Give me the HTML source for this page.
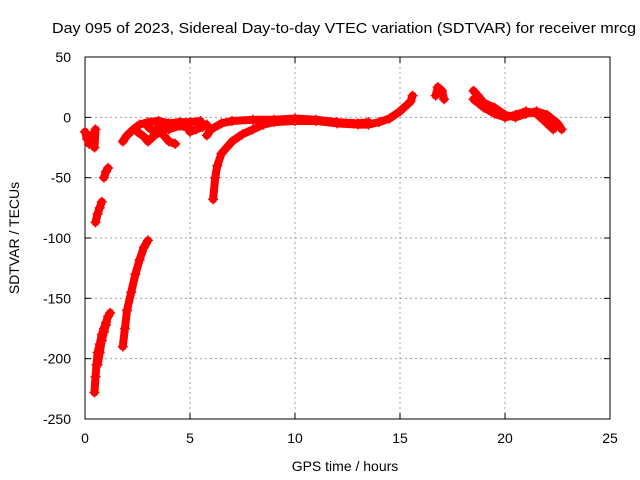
<!DOCTYPE html>
<html><head><meta charset="utf-8"><style>
body{margin:0;background:#fff}
svg{display:block;font-family:"Liberation Sans",sans-serif}
</style></head><body>
<svg id="chart" width="640" height="480">
<rect width="640" height="480" fill="#fff"/>
<text x="52" y="33" font-size="15" textLength="584" lengthAdjust="spacingAndGlyphs">Day 095 of 2023, Sidereal Day-to-day VTEC variation (SDTVAR) for receiver mrcg</text>
<g id="grid"></g>
<g id="axes"></g>
<g id="series"></g>
<text x="345" y="471" font-size="14" text-anchor="middle">GPS time / hours</text>
<text transform="translate(19,238) rotate(-90)" font-size="14" text-anchor="middle">SDTVAR / TECUs</text>
</svg>
<script>
const xTicks=[0,5,10,15,20,25];
const yTicks=[50,0,-50,-100,-150,-200,-250];
const track1X=[0.0,0.1,0.2,0.3,0.4,0.5,0.45];
const track1Y=[-12,-18,-22,-15,-20,-10,-25];
const track2X=[0.5,0.6,0.7,0.8];
const track2Y=[-87,-80,-75,-70];
const track3X=[0.9,1.0,1.1];
const track3Y=[-50,-45,-42];
const track4X=[0.45,0.5,0.55,0.6,0.7,0.8,0.9,1.0,1.1,1.2];
const track4Y=[-228,-215,-205,-195,-188,-180,-175,-170,-165,-162];
const track4bX=[0.6,0.7,0.8,0.9,1.0];
const track4bY=[-205,-195,-185,-178,-172];
const track5X=[1.8,1.9,2.0,2.2,2.4,2.6,2.8,3.0];
const track5Y=[-190,-175,-160,-145,-130,-118,-108,-102];
const track6X=[1.8,2.0,2.3,2.6,3.0,3.5,4.0,4.5,5.0,5.5];
const track6Y=[-20,-15,-10,-6,-4,-3,-5,-4,-4,-3];
const track7X=[2.5,2.8,3.0,3.3,3.6,4.0,4.3];
const track7Y=[-12,-16,-20,-15,-12,-20,-22];
const track7bX=[3.0,3.3,3.6,4.0,4.5,5.0];
const track7bY=[-8,-12,-6,-10,-7,-9];
const track8X=[5.0,5.3,5.6,5.8];
const track8Y=[-12,-10,-8,-6];
const track9X=[6.1,6.2,6.3,6.5,7,7.5,8,8.5,9,10,11,12,13,13.5,14,14.5,15,15.5,15.6];
const track9Y=[-68,-50,-40,-30,-20,-14,-10,-6,-4,-3,-3,-5,-6,-6,-4,-1,5,13,18];
const track10X=[5.8,6,6.5,7,8,9,10,11,12,13,13.5];
const track10Y=[-15,-10,-5,-3,-2,-2,-1,-2,-4,-5,-4];
const track11X=[16.7,16.8,17.0,17.1];
const track11Y=[18,25,22,15];
const track12X=[18.5,18.7,19,19.5,20,20.5,21,21.5,22,22.5,22.7];
const track12Y=[22,18,12,8,2,0,3,5,2,-5,-10];
const track13X=[18.5,19,19.5,20,20.5,21,21.5,22,22.3];
const track13Y=[15,8,3,0,2,5,3,-5,-10];
const tracksX=[track1X,track2X,track3X,track4X,track4bX,track5X,track6X,track7X,track7bX,track8X,track9X,track10X,track11X,track12X,track13X];
const tracksY=[track1Y,track2Y,track3Y,track4Y,track4bY,track5Y,track6Y,track7Y,track7bY,track8Y,track9Y,track10Y,track11Y,track12Y,track13Y];

const X0=85,X1=610,Y0=419,Y1=57;
const sx=v=>X0+(v-0)/(25-0)*(X1-X0);
const sy=v=>Y0-(v+250)/(300)*(Y0-Y1);
const NS="http://www.w3.org/2000/svg";
function mk(t,a,p){const e=document.createElementNS(NS,t);for(const k in a)e.setAttribute(k,a[k]);p.appendChild(e);return e;}
const grid=document.getElementById('grid'),axes=document.getElementById('axes'),ser=document.getElementById('series');
xTicks.forEach(t=>{
  if(t>0&&t<25){const l=mk('line',{x1:sx(t),x2:sx(t),y1:Y1,y2:Y0,stroke:'#a0a0a0','stroke-dasharray':'2,3'},grid);
  
  }
  mk('line',{x1:sx(t),x2:sx(t),y1:Y0,y2:Y0-6,stroke:'#000'},axes);
  mk('line',{x1:sx(t),x2:sx(t),y1:Y1,y2:Y1+6,stroke:'#000'},axes);
  const lb=mk('text',{x:sx(t),y:Y0+24,'font-size':14,'text-anchor':'middle'},axes);lb.textContent=t;
  
  
});
yTicks.forEach(t=>{
  if(t<50&&t>-250){const l=mk('line',{x1:X0,x2:X1,y1:sy(t),y2:sy(t),stroke:'#a0a0a0','stroke-dasharray':'2,3'},grid);
  
  }
  mk('line',{x1:X0,x2:X0+6,y1:sy(t),y2:sy(t),stroke:'#000'},axes);
  mk('line',{x1:X1,x2:X1-6,y1:sy(t),y2:sy(t),stroke:'#000'},axes);
  const lb=mk('text',{x:X0-14,y:sy(t)+5,'font-size':14,'text-anchor':'end'},axes);lb.textContent=t;
  
  
});
mk('rect',{x:X0,y:Y1,width:X1-X0,height:Y0-Y1,fill:'none',stroke:'#000'},axes);
tracksX.forEach((xs,i)=>{
  const ys=tracksY[i];
  const pts=xs.map((x,j)=>sx(x)+','+sy(ys[j])).join(' ');
  const pl=mk('polyline',{points:pts,fill:'none',stroke:'#f00','stroke-width':8,'stroke-linejoin':'round','stroke-linecap':'round'},ser);
  
  
  xs.forEach((x,j)=>{
    const cx=sx(x),cy=sy(ys[j]);
    const p=mk('path',{d:`M${cx-5},${cy}H${cx+5}M${cx},${cy-5}V${cy+5}`,stroke:'#f00','stroke-width':1.5},ser);
    
    
  });
});
</script>
</body></html>
